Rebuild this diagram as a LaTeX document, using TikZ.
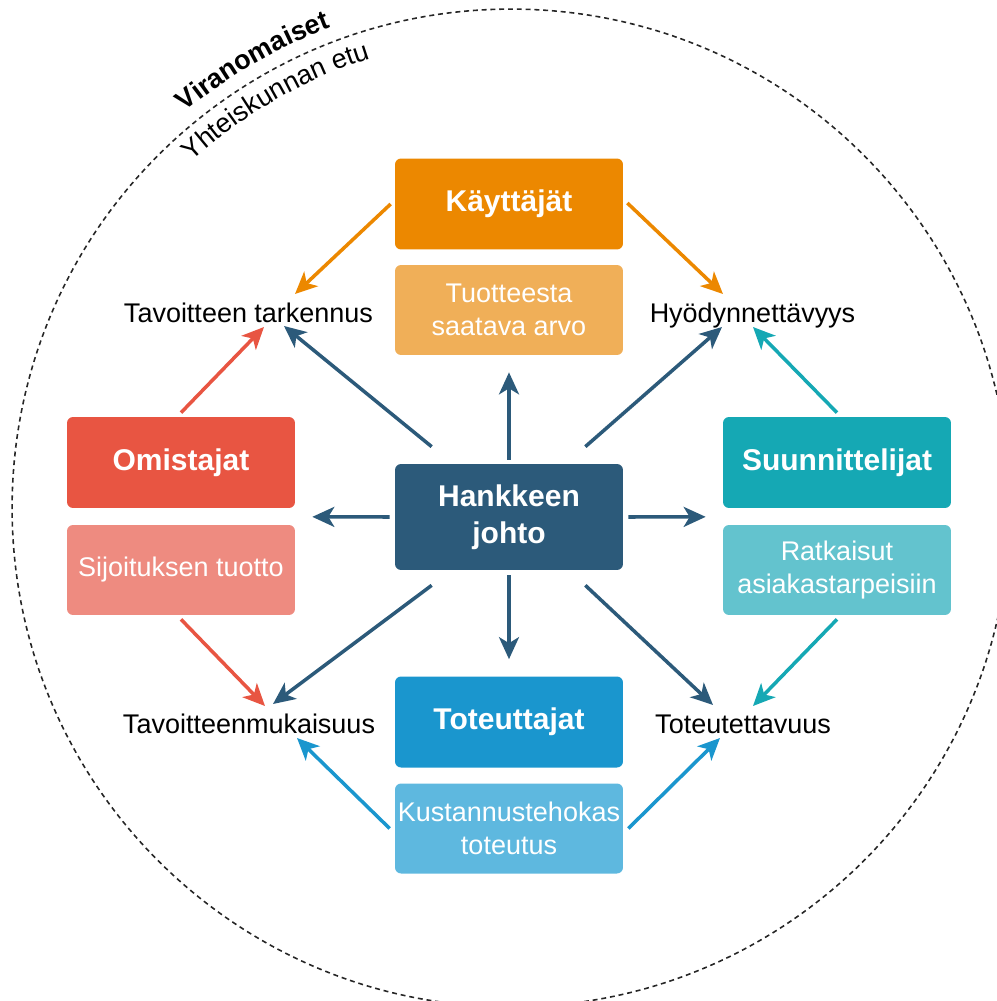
\documentclass[tikz,border=0pt]{standalone}
\usepackage{fontspec}
\setmainfont{Liberation Sans}
\usetikzlibrary{arrows.meta,decorations.text}
\definecolor{kayC}{HTML}{EC8800}
\definecolor{kaySub}{HTML}{F0AF58}
\definecolor{hankC}{HTML}{2C5A7A}
\definecolor{totC}{HTML}{1A96CE}
\definecolor{totSub}{HTML}{5EB8DF}
\definecolor{omiC}{HTML}{E85542}
\definecolor{omiSub}{HTML}{EE8B80}
\definecolor{suuC}{HTML}{15A8B4}
\definecolor{suuSub}{HTML}{63C3CE}
\tikzset{
  box/.style={rounded corners=0.12cm, minimum width=4.56cm, align=center,
    text=white, inner xsep=0pt, inner ysep=2pt},
  head/.style={box, minimum height=1.82cm, font=\fontsize{17.07}{20.8}\selectfont\bfseries},
  sub/.style={box, minimum height=1.8cm, font=\fontsize{15.36}{18.4}\selectfont},
  goal/.style={inner sep=0pt, font=\fontsize{15.36}{17.6}\selectfont},
  arr/.style={-{Stealth[length=4.4mm,width=4mm,inset=1.2mm]}, line width=2pt},
  ring/.style={draw=black!85, line width=0.9pt, dash pattern=on 2.8pt off 2.2pt}
}
\begin{document}
\begin{tikzpicture}[x=0.02cm, y=-0.02cm]
  \useasboundingbox (0,0) rectangle (997,1001);

  % outer ring with the two curved titles
  \coordinate (ctr) at (511,508);
  \draw[ring] (ctr) circle[radius=9.98cm];
  \path[decorate, decoration={text along path, text align=center,
      text={|\fontsize{15.36}{18}\selectfont\bfseries|Viranomaiset}}]
    ([shift={(140:10.26cm)}]ctr) arc[start angle=140, end angle=100, radius=10.26cm];
  \path[decorate, decoration={text along path, text align=center,
      text={|\fontsize{15.36}{18}\selectfont|Yhteiskunnan etu}}]
    ([shift={(140:9.42cm)}]ctr) arc[start angle=140, end angle=100, radius=9.42cm];

  % stakeholder boxes
  \node[head, fill=kayC] (kay) at (509,204) {Käyttäjät};
  \node[sub, fill=kaySub] (tuo) at (509,310) {Tuotteesta\\saatava arvo};
  \node[head, fill=hankC, minimum height=2.12cm] (hank) at (509,517) {Hankkeen\\johto};
  \node[head, fill=totC] (tot) at (509,722) {Toteuttajat};
  \node[sub, fill=totSub] (kus) at (509,828.5) {Kustannustehokas\\toteutus};
  \node[head, fill=omiC] (omi) at (181,462.5) {Omistajat};
  \node[sub, fill=omiSub] (sij) at (181,570) {Sijoituksen tuotto};
  \node[head, fill=suuC] (suu) at (837,462.5) {Suunnittelijat};
  \node[sub, fill=suuSub] (rat) at (837,570) {Ratkaisut\\asiakastarpeisiin};

  % goals
  \node[goal, anchor=base] (tark) at (248.5,322) {Tavoitteen tarkennus};
  \node[goal, anchor=base] (hyod) at (752.5,322) {Hyödynnettävyys};
  \node[goal, anchor=base] (tmuk) at (249,733) {Tavoitteenmukaisuus};
  \node[goal, anchor=base] (totv) at (743,733) {Toteutettavuus};

  % coloured arrows
  \draw[arr, color=kayC] ([shift={(-4,0)}]kay.west) -- ([shift={(46.5,-28)}]tark.base);
  \draw[arr, color=kayC] ([shift={(4,-1)}]kay.east) -- ([shift={(-29.5,-28)}]hyod.base);
  \draw[arr, color=omiC] ([shift={(0,-4)}]omi.north) -- ([shift={(15.5,5)}]tark.base);
  \draw[arr, color=omiC] ([shift={(0,4)}]sij.south) -- ([shift={(16,-27)}]tmuk.base);
  \draw[arr, color=suuC] ([shift={(0,-4)}]suu.north) -- ([shift={(0.5,5)}]hyod.base);
  \draw[arr, color=suuC] ([shift={(0,4)}]rat.south) -- ([shift={(10,-27)}]totv.base);
  \draw[arr, color=totC] ([shift={(-5,0)}]kus.west) -- ([shift={(48,5)}]tmuk.base);
  \draw[arr, color=totC] ([shift={(5,0)}]kus.east) -- ([shift={(-23,5)}]totv.base);

  % project management arrows
  \draw[arr, color=hankC] ([shift={(37,-17)}]hank.north west) -- ([shift={(35.5,4)}]tark.base);
  \draw[arr, color=hankC] ([shift={(-38,-17)}]hank.north east) -- ([shift={(-30.5,5)}]hyod.base);
  \draw[arr, color=hankC] ([shift={(37,15)}]hank.south west) -- ([shift={(24,-29)}]tmuk.base);
  \draw[arr, color=hankC] ([shift={(-38,15)}]hank.south east) -- ([shift={(-30,-28)}]totv.base);
  \draw[arr, color=hankC] ([shift={(0,-4)}]hank.north) -- ([shift={(0,17)}]tuo.south);
  \draw[arr, color=hankC] ([shift={(0,5)}]hank.south) -- ([shift={(0,-17)}]tot.north);
  \draw[arr, color=hankC] ([shift={(-5,0)}]hank.west) -- ([shift={(17,8.5)}]omi.south east);
  \draw[arr, color=hankC] ([shift={(5,0)}]hank.east) -- ([shift={(-17,8.5)}]suu.south west);
\end{tikzpicture}
\end{document}
